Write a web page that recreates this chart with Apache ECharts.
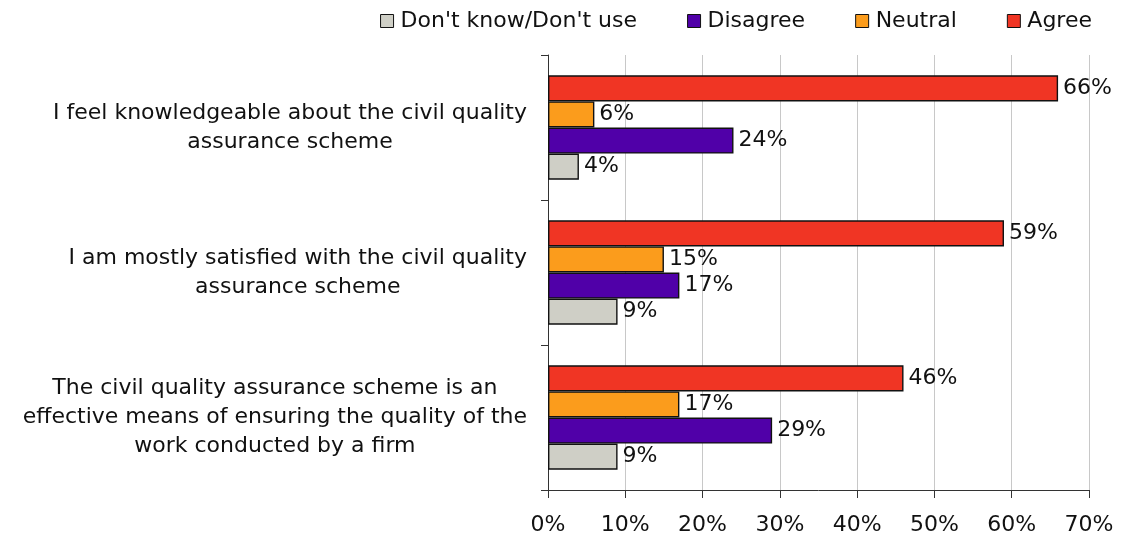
<!DOCTYPE html>
<html>
<head>
<meta charset="utf-8">
<script src="https://cdn.jsdelivr.net/npm/echarts@6/dist/echarts.min.js"></script>
<style>
  html, body { margin: 0; padding: 0; background: #fff; }
  #chart { width: 1133px; height: 537px; }
</style>
</head>
<body>
<div id="chart"></div>
<script>
// Survey statements (top to bottom)
const categories = [
  'I feel knowledgeable about the civil quality\nassurance scheme',
  'I am mostly satisfied with the civil quality\nassurance scheme',
  'The civil quality assurance scheme is an\neffective means of ensuring the quality of the\nwork conducted by a firm'
];

// Response shares, percent
const agree     = [66, 59, 46];
const neutral   = [6, 15, 17];
const disagree  = [24, 17, 29];
const dontKnow  = [4, 9, 9];

const xTicks = [0, 10, 20, 30, 40, 50, 60, 70];

const FONT = 'DejaVu Sans, Verdana, sans-serif';

function barSeries(name, data, color) {
  return {
    name: name,
    type: 'bar',
    data: data,
    barGap: '0%',
    barCategoryGap: '28%',
    itemStyle: { color: color, borderColor: '#111', borderWidth: 1.4 },
    label: {
      show: true,
      position: 'right',
      distance: 5,
      formatter: p => p.value + '%',
      fontFamily: FONT,
      fontSize: 22,
      color: '#111'
    }
  };
}

const chart = echarts.init(document.getElementById('chart'), null, { renderer: 'canvas' });
chart.setOption({
  animation: false,
  backgroundColor: '#fff',
  legend: {
    top: 5,
    right: 36,
    itemWidth: 13,
    itemHeight: 13,
    itemGap: 50,
    icon: 'rect',
    data: ["Don't know/Don't use", 'Disagree', 'Neutral', 'Agree'],
    textStyle: { fontFamily: FONT, fontSize: 22, color: '#111', padding: [0, 0, 0, 2] },
    itemStyle: { borderColor: '#111', borderWidth: 1 }
  },
  grid: { left: 548, right: 44, top: 55, bottom: 47, containLabel: false },
  xAxis: {
    type: 'value',
    min: xTicks[0],
    max: xTicks[xTicks.length - 1],
    interval: 10,
    axisLine: { show: true, lineStyle: { color: '#333', width: 1 } },
    axisTick: { show: true, length: 8, lineStyle: { color: '#333' } },
    splitLine: { show: true, lineStyle: { color: '#c8c8c8', width: 1 } },
    axisLabel: {
      formatter: v => v + '%',
      fontFamily: FONT,
      fontSize: 22,
      color: '#111',
      margin: 24
    }
  },
  yAxis: {
    type: 'category',
    inverse: true,
    data: categories,
    axisLine: { show: true, lineStyle: { color: '#333', width: 1 } },
    axisTick: { show: true, length: 7, lineStyle: { color: '#333' } },
    axisLabel: {
      // block is right-aligned to the axis, each line centred inside the block
      align: 'right',
      margin: 21,
      formatter: v => v.split('\n').map(line => '{c|' + line + '}').join('\n'),
      rich: {
        c: {
          align: 'center',
          fontFamily: FONT,
          fontSize: 22,
          lineHeight: 29,
          color: '#111'
        }
      }
    }
  },
  series: [
    barSeries('Agree', agree, '#f03524'),
    barSeries('Neutral', neutral, '#fb9c1c'),
    barSeries('Disagree', disagree, '#5000a8'),
    barSeries("Don't know/Don't use", dontKnow, '#cfcfc6')
  ]
});
</script>
</body>
</html>
